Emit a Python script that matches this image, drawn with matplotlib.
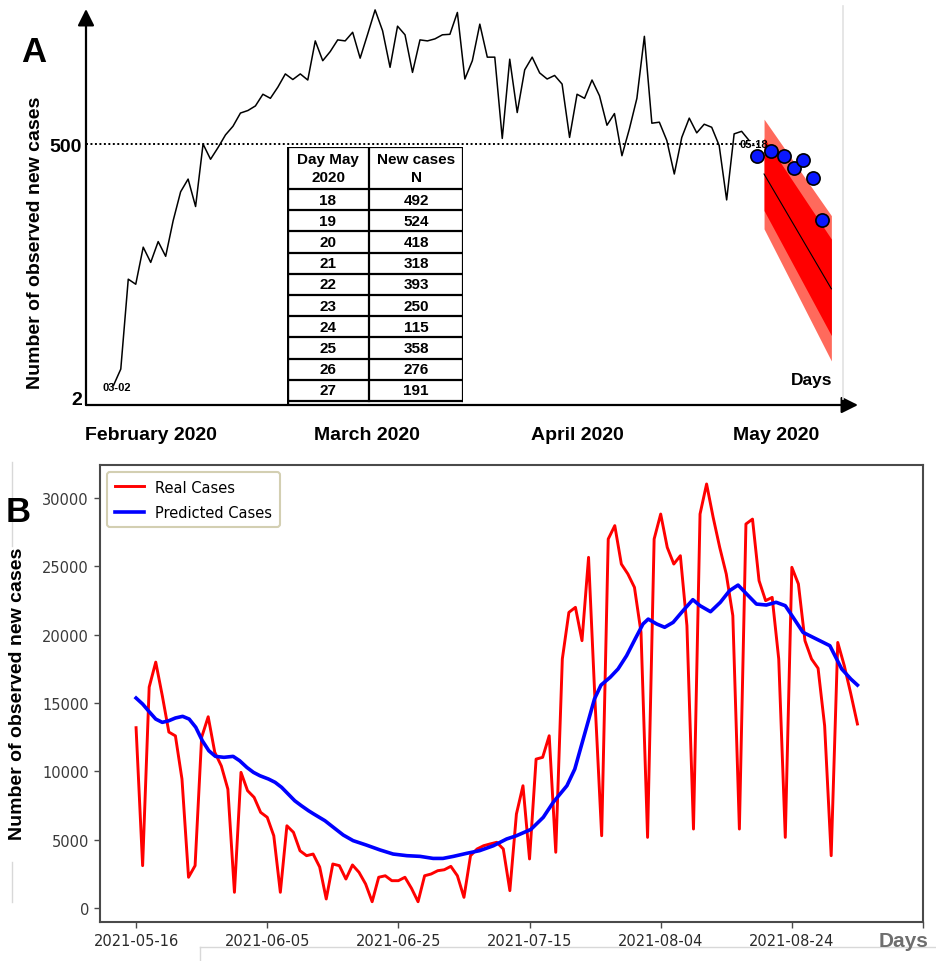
import numpy as np
import matplotlib
matplotlib.use("Agg")
import matplotlib.pyplot as plt
import matplotlib.dates as mdates
from matplotlib.lines import Line2D

W, H = 936, 962

# ---------------- panel A data ----------------
a_cases = [24, 57, 234, 224, 297, 267, 308, 279, 349, 406, 431, 377, 500, 470, 493, 518,
           535, 561, 566, 575, 598, 590, 612, 638, 627, 638, 626, 703, 664, 682, 705, 703,
           720, 669, 716, 764, 723, 651, 732, 715, 641, 705, 703, 707, 715, 716, 759, 628,
           664, 736, 671, 671, 511, 667, 562, 646, 671, 640, 628, 635, 618, 513, 598, 590,
           626, 595, 537, 560, 477, 530, 590, 712, 541, 543, 507, 441, 513, 551, 522, 539,
           533, 497, 390, 520, 525, 507]
a_yticks = [2, 500]
month_labels = ["February 2020", "March 2020", "April 2020", "May 2020"]
month_pos = [5.0, 33.9, 62.0, 88.6]

# forecast fan (start / end day index)
fan_day = [87.0, 96.0]
fan_mid = [441, 215]
fan_in_lo = [369, 123]
fan_in_hi = [512, 313]
fan_out_lo = [333, 73]
fan_out_hi = [549, 359]

# observed points over the forecast
dot_day = [86.1, 87.9, 89.6, 91.0, 92.2, 93.6, 94.7]
dot_cases = [476, 486, 476, 453, 469, 433, 350]

# table
may_days = [18, 19, 20, 21, 22, 23, 24, 25, 26, 27]
may_cases = [492, 524, 418, 318, 393, 250, 115, 358, 276, 191]

# ---------------- panel B data ----------------
real_cases = [13200, 3100, 16170, 18000, 15540, 12880, 12600, 9440, 2250, 3100,
              12500, 14000, 11400, 10400, 8700, 1150, 9930, 8590, 8100, 7000,
              6640, 5290, 1150, 6020, 5540, 4190, 3830, 3950, 3000, 660,
              3220, 3100, 2120, 3150, 2610, 1760, 460, 2250, 2360, 2000,
              2000, 2250, 1440, 460, 2360, 2490, 2730, 2800, 3050, 2360,
              780, 3830, 4320, 4560, 4690, 4810, 4320, 1270, 6880, 8950,
              3590, 10900, 11030, 12610, 4080, 18230, 21640, 22010, 19570, 25670,
              15000, 5290, 27010, 27990, 25180, 24450, 23470, 20180, 5170, 27010,
              28840, 26400, 25180, 25790, 20670, 5780, 28840, 31040, 28600, 26400,
              24450, 21400, 5780, 28110, 28470, 23960, 22500, 22740, 18230, 5170,
              24940, 23720, 19570, 18230, 17550, 13340, 3830, 19440, 17730, 15660,
              13470]
pred_day = [0, 1, 2, 3, 4, 5, 6, 7.1, 8.1, 9.1, 10.1, 11.1, 12.1, 13.4, 14.8, 15.8,
            16.9, 17.9, 18.9, 20.2, 21.2, 22.2, 23.2, 24.2, 25.2, 26.3, 27.1, 28.8,
            30.1, 31.6, 33.1, 35.1, 37.2, 39.2, 41.3, 43.3, 45.3, 46.8, 48.4, 50.4,
            52.4, 54.5, 56.5, 58.0, 60.2, 62.1, 63.6, 65.7, 66.9, 67.9, 68.9, 69.9,
            70.9, 72.3, 73.5, 74.8, 76.1, 77.3, 78.1, 79.4, 80.6, 81.9, 83.4, 84.9,
            86.0, 87.6, 89.1, 90.5, 91.8, 93.1, 94.6, 96.1, 97.6, 99.0, 100.2, 101.7,
            103.2, 104.8, 105.8, 107.6, 109.0, 110.0]
pred_cases = [15370, 14930, 14370, 13830, 13590, 13710, 13910, 14030, 13830, 13230,
              12250, 11510, 11100, 11030, 11100, 10780, 10290, 9930, 9680, 9440,
              9200, 8830, 8340, 7850, 7490, 7120, 6880, 6390, 5900, 5340,
              4930, 4610, 4250, 3950, 3830, 3780, 3630, 3630, 3780, 4000,
              4200, 4560, 5050, 5290, 5750, 6640, 7730, 8950, 10170, 11880,
              13590, 15300, 16320, 16890, 17500, 18470, 19690, 20790, 21150, 20790,
              20550, 20910, 21760, 22570, 22130, 21690, 22380, 23230, 23640, 22990,
              22250, 22180, 22380, 22130, 21270, 20180, 19820, 19440, 19200, 17500,
              16760, 16320]
start_date = "2021-05-16"
date_ticks = ["2021-05-16", "2021-06-05", "2021-06-25", "2021-07-15",
              "2021-08-04", "2021-08-24", "2021-09-13"]
b_yticks = [0, 5000, 10000, 15000, 20000, 25000, 30000]


def px(x, y):
    return x / W, 1 - y / H


def box(x0, y0, x1, y1):
    return [x0 / W, 1 - y1 / H, (x1 - x0) / W, (y1 - y0) / H]


fig = plt.figure(figsize=(W / 100, H / 100), dpi=100)
bold = dict(family="Liberation Sans", fontweight="bold")

# ================= panel A =================
ax = fig.add_axes(box(86, 10, 858, 406))
ax.set_xlim(-3.65, 99.56)
ax.set_ylim(-13.7, 765.8)
for s in ax.spines.values():
    s.set_visible(False)
ax.patch.set_alpha(0)

ax.annotate("", xy=(0, 1), xytext=(0, 0), xycoords="axes fraction",
            arrowprops=dict(arrowstyle="-|>,head_length=0.5,head_width=0.25",
                            color="k", lw=1.6, shrinkA=0, shrinkB=0, mutation_scale=20))
ax.annotate("", xy=(1, 0), xytext=(0, 0), xycoords="axes fraction",
            arrowprops=dict(arrowstyle="-|>,head_length=0.5,head_width=0.25",
                            color="k", lw=1.6, shrinkA=0, shrinkB=0, mutation_scale=20))

ax.plot([ax.get_xlim()[0], 86.6], [500, 500], color="k", lw=1.4,
        linestyle=(0, (1, 1.3)))
ax.plot(np.arange(len(a_cases)), a_cases, color="k", lw=1.1)

ax.fill_between(fan_day, fan_out_lo, fan_out_hi, color="#ff6a5c", lw=0, zorder=3)
ax.fill_between(fan_day, fan_in_lo, fan_in_hi, color="#ff0000", lw=0, zorder=3)
ax.plot(fan_day, fan_mid, color="k", lw=0.8, zorder=4)
ax.plot(dot_day, dot_cases, "o", ms=9.5, mfc="#0a18ff", mec="k", mew=1.2, zorder=5)

ax.text(0.5, 22, "03-02", ha="center", va="center", fontsize=8, **bold)
ax.text(85.6, 500, "05-18", ha="center", va="center", fontsize=8, zorder=6, **bold)
ax.text(93.3, 37, "Days", ha="center", va="center", fontsize=12.5, **bold)

ax.set_yticks(a_yticks)
ax.set_yticklabels([str(v) for v in a_yticks], fontsize=14, **bold)
ax.set_xticks(month_pos)
ax.set_xticklabels(month_labels, fontsize=14, **bold)
ax.tick_params(axis="y", length=0, pad=3)
ax.tick_params(axis="x", length=0, pad=15)

fig.text(*px(36, 243), "Number of observed new cases", rotation=90,
         ha="center", va="center", fontsize=14, **bold)
fig.text(*px(34, 52), "A", ha="center", va="center", fontsize=25, **bold)
fig.add_artist(Line2D([843 / W] * 2, [1 - 7 / H, 1 - 400 / H], color="#e2e2e2", lw=1.2))

# table
tb = fig.add_axes(box(287, 148, 463, 406))
tb.set_xlim(0, 176)
tb.set_ylim(258, 0)
tb.axis("off")
head_h, row_h, mid_x = 42, 21.2, 82
tb.plot([0, 176], [0, 0], color="k", lw=1.6)
tb.plot([0, 176], [head_h, head_h], color="k", lw=1.6)
for i in range(len(may_days)):
    yl = head_h + row_h * (i + 1)
    tb.plot([0, 176], [yl, yl], color="k", lw=1.6)
    yc = head_h + row_h * (i + 0.5)
    tb.text(mid_x / 2, yc, str(may_days[i]), ha="center", va="center", fontsize=11, **bold)
    tb.text((mid_x + 176) / 2, yc, str(may_cases[i]), ha="center", va="center",
            fontsize=11, **bold)
tb.plot([0, 0], [0, 258], color="k", lw=2.4)
tb.plot([mid_x, mid_x], [0, head_h + row_h * len(may_days)], color="k", lw=1.6)
tb.plot([176, 176], [0, head_h + row_h * len(may_days)], color="k", lw=1.6)
tb.text(mid_x / 2, head_h / 2, "Day May\n2020", ha="center", va="center",
        fontsize=11, linespacing=1.35, **bold)
tb.text((mid_x + 176) / 2, head_h / 2, "New cases\nN", ha="center", va="center",
        fontsize=11, linespacing=1.35, **bold)

# ================= panel B =================
bx = fig.add_axes(box(100, 466, 923, 923))
x0 = mdates.datestr2num(start_date)
real_x = x0 + np.arange(len(real_cases))
pred_x = x0 + np.array(pred_day)
bx.plot(real_x, real_cases, color="#ff0000", lw=2.1, label="Real Cases")
bx.plot(pred_x, pred_cases, color="#0000ff", lw=2.6, label="Predicted Cases")
bx.set_xlim(x0 - 5.5, x0 + 120)
bx.set_ylim(-1025, 32430)

tick_x = [mdates.datestr2num(d) for d in date_ticks]
bx.set_xticks(tick_x)
bx.set_xticklabels(date_ticks[:-1] + [""], fontsize=10.5, color="#2a2a2a")
bx.set_yticks(b_yticks)
bx.set_yticklabels([str(v) for v in b_yticks], fontsize=10.5, color="#3a3a3a")
bx.tick_params(length=4, width=1, color="#4a4a4a", pad=4)
for s in bx.spines.values():
    s.set_color("#4a4a4a")
    s.set_linewidth(1.5)

leg = bx.legend(loc="upper left", fontsize=10.5, frameon=True, fancybox=True,
                borderaxespad=0.5, handlelength=2.0, labelspacing=0.7, borderpad=0.5)
leg.get_frame().set_edgecolor("#c9c39f")
leg.get_frame().set_linewidth(1.5)

fig.text(*px(18, 694), "Number of observed new cases", rotation=90,
         ha="center", va="center", fontsize=14, **bold)
fig.text(*px(18, 512), "B", ha="center", va="center", fontsize=25, **bold)
fig.text(*px(904, 942), "Days", ha="center", va="center", fontsize=15,
         color="#6e6e6e", **bold)

# faint frame remnants
fig.add_artist(Line2D([200 / W, 935 / W], [1 - 948 / H] * 2, color="#d8d8d8", lw=1))
fig.add_artist(Line2D([200 / W] * 2, [1 - 948 / H, 0], color="#d8d8d8", lw=1))
fig.add_artist(Line2D([12 / W] * 2, [1 - 463 / H, 1 - 547 / H], color="#d8d8d8", lw=1))
fig.add_artist(Line2D([12 / W] * 2, [1 - 863 / H, 1 - 903 / H], color="#d8d8d8", lw=1))

fig.savefig("out.png", dpi=100)
